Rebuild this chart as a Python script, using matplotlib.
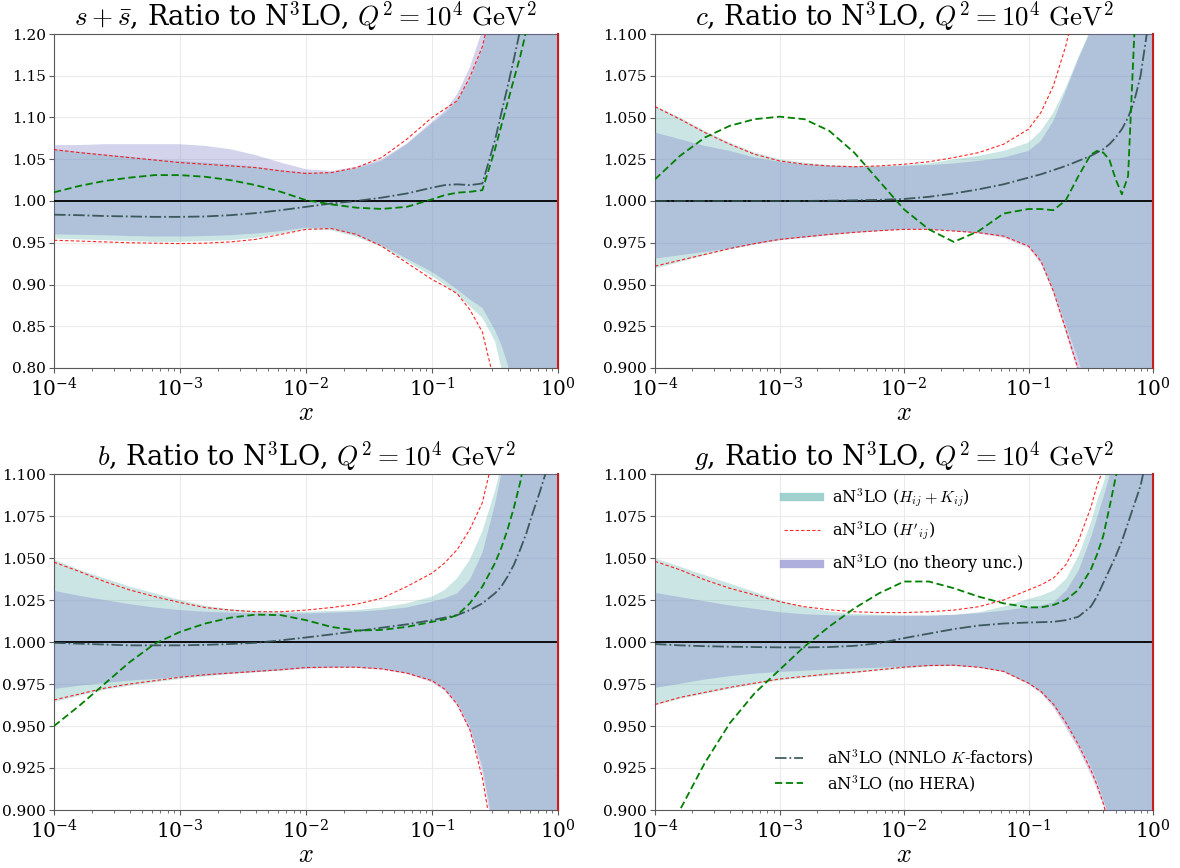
import numpy as np
import matplotlib
matplotlib.use("Agg")
import matplotlib.pyplot as plt
from matplotlib.lines import Line2D
from matplotlib.ticker import FormatStrFormatter, LogLocator

plt.rcParams["font.family"] = "serif"
plt.rcParams["font.serif"] = ["DejaVu Serif"]
plt.rcParams["mathtext.fontset"] = "cm"

# log10(x) sampling points shared by all curves
log_x = [-4.0, -3.8, -3.6, -3.4, -3.2, -3.0, -2.8, -2.6, -2.4, -2.2, -2.0, -1.8, -1.6,
         -1.4, -1.2, -1.0, -0.9, -0.8, -0.7, -0.6, -0.5, -0.45, -0.4, -0.35, -0.3, -0.25,
         -0.2, -0.15, -0.1, -0.05, 0.0]

# ---- s + sbar ----
ss_hk_up = [1.062, 1.059, 1.056, 1.053, 1.050, 1.048, 1.046, 1.044, 1.041, 1.037, 1.034, 1.034, 1.039,
            1.048, 1.068, 1.093, 1.105, 1.120, 1.145, 1.182, 1.25, 1.29, 1.33, 1.37, 1.41, 1.45,
            1.49, 1.53, 1.57, 1.61, 1.65]
ss_hk_lo = [0.955, 0.954, 0.953, 0.952, 0.951, 0.951, 0.952, 0.953, 0.956, 0.961, 0.966, 0.965, 0.957,
            0.945, 0.928, 0.910, 0.900, 0.888, 0.874, 0.860, 0.832, 0.800, 0.760, 0.72, 0.68, 0.64,
            0.60, 0.56, 0.52, 0.48, 0.44]
ss_nt_up = [1.067, 1.067, 1.068, 1.068, 1.068, 1.068, 1.066, 1.062, 1.055, 1.046, 1.038, 1.036, 1.041,
            1.050, 1.069, 1.095, 1.108, 1.128, 1.160, 1.205, 1.27, 1.31, 1.35, 1.39, 1.43, 1.47,
            1.51, 1.55, 1.59, 1.63, 1.67]
ss_nt_lo = [0.960, 0.9595, 0.959, 0.958, 0.9575, 0.9575, 0.958, 0.959, 0.961, 0.964, 0.968, 0.967, 0.959,
            0.947, 0.931, 0.915, 0.905, 0.894, 0.882, 0.872, 0.845, 0.828, 0.805, 0.77, 0.73, 0.69,
            0.65, 0.61, 0.57, 0.53, 0.49]
ss_hp_up = [1.0615, 1.058, 1.055, 1.052, 1.049, 1.046, 1.044, 1.042, 1.040, 1.036, 1.033, 1.034, 1.040,
            1.052, 1.074, 1.100, 1.110, 1.120, 1.148, 1.185, 1.25, 1.30, 1.35, 1.40, 1.45, 1.50,
            1.55, 1.60, 1.65, 1.70, 1.75]
ss_hp_lo = [0.953, 0.952, 0.951, 0.950, 0.9495, 0.949, 0.9495, 0.951, 0.954, 0.960, 0.966, 0.967, 0.960,
            0.946, 0.926, 0.906, 0.898, 0.889, 0.870, 0.843, 0.78, 0.74, 0.70, 0.66, 0.62, 0.58,
            0.54, 0.50, 0.46, 0.42, 0.38]
ss_kfac = [0.9836, 0.983, 0.982, 0.9815, 0.981, 0.981, 0.9815, 0.983, 0.9855, 0.989, 0.993, 0.997, 1.000,
           1.004, 1.009, 1.016, 1.019, 1.020, 1.019, 1.021, 1.073, 1.105, 1.137, 1.170, 1.205, 1.25,
           1.30, 1.35, 1.40, 1.45, 1.50]
ss_nohera = [1.0104, 1.018, 1.024, 1.028, 1.031, 1.031, 1.029, 1.025, 1.019, 1.011, 1.001, 0.996, 0.992,
             0.9905, 0.993, 1.002, 1.007, 1.010, 1.011, 1.013, 1.062, 1.090, 1.118, 1.146, 1.173, 1.205,
             1.24, 1.28, 1.32, 1.36, 1.40]

# ---- charm ----
c_hk_up = [1.057, 1.050, 1.042, 1.035, 1.029, 1.025, 1.023, 1.0215, 1.021, 1.021, 1.0215, 1.0225, 1.025,
           1.027, 1.030, 1.035, 1.042, 1.053, 1.068, 1.086, 1.103, 1.115, 1.13, 1.15, 1.17, 1.19,
           1.21, 1.23, 1.25, 1.27, 1.30]
c_hk_lo = [0.9595, 0.9635, 0.9675, 0.971, 0.974, 0.9765, 0.978, 0.9795, 0.981, 0.982, 0.983, 0.983, 0.982,
           0.981, 0.979, 0.9735, 0.9645, 0.947, 0.926, 0.905, 0.880, 0.86, 0.84, 0.82, 0.80, 0.78,
           0.76, 0.74, 0.72, 0.70, 0.68]
c_nt_up = [1.041, 1.037, 1.033, 1.030, 1.026, 1.0235, 1.022, 1.021, 1.0205, 1.0205, 1.021, 1.0215, 1.0225,
           1.024, 1.026, 1.030, 1.036, 1.048, 1.066, 1.085, 1.102, 1.114, 1.13, 1.15, 1.17, 1.19,
           1.21, 1.23, 1.25, 1.27, 1.30]
c_nt_lo = [0.9655, 0.9675, 0.9695, 0.9715, 0.974, 0.9765, 0.978, 0.9795, 0.981, 0.982, 0.983, 0.983, 0.982,
           0.9805, 0.978, 0.972, 0.9625, 0.9445, 0.921, 0.897, 0.870, 0.855, 0.835, 0.815, 0.795, 0.775,
           0.755, 0.735, 0.715, 0.695, 0.675]
c_hp_up = [1.0565, 1.049, 1.041, 1.034, 1.028, 1.024, 1.022, 1.021, 1.0205, 1.021, 1.022, 1.0235, 1.026,
           1.029, 1.034, 1.043, 1.053, 1.069, 1.093, 1.125, 1.17, 1.20, 1.23, 1.26, 1.29, 1.32,
           1.35, 1.38, 1.41, 1.44, 1.47]
c_hp_lo = [0.961, 0.9645, 0.968, 0.9715, 0.9745, 0.977, 0.9785, 0.980, 0.9812, 0.9822, 0.983, 0.983, 0.982,
           0.981, 0.979, 0.973, 0.964, 0.946, 0.923, 0.899, 0.86, 0.84, 0.82, 0.80, 0.78, 0.76,
           0.74, 0.72, 0.70, 0.68, 0.66]
c_kfac = [1.0, 1.0, 1.0, 1.0, 1.0, 1.0, 1.0, 1.0002, 1.0004, 1.0007, 1.0012, 1.0025, 1.0045,
          1.007, 1.010, 1.014, 1.016, 1.0185, 1.021, 1.024, 1.027, 1.029, 1.031, 1.034, 1.038, 1.043,
          1.050, 1.060, 1.075, 1.10, 1.14]
c_nohera = [1.013, 1.027, 1.038, 1.045, 1.049, 1.0505, 1.049, 1.042, 1.029, 1.012, 0.995, 0.983, 0.9755,
            0.982, 0.9925, 0.9952, 0.9952, 0.9945, 1.0005, 1.0148, 1.0278, 1.0300, 1.029, 1.0247, 1.013, 1.004,
            1.015, 1.10, 1.30, 1.60, 2.00]

# ---- bottom ----
b_hk_up = [1.049, 1.043, 1.038, 1.033, 1.029, 1.025, 1.0215, 1.0195, 1.0185, 1.018, 1.018, 1.0185, 1.019,
           1.0205, 1.023, 1.027, 1.031, 1.038, 1.049, 1.066, 1.09, 1.105, 1.12, 1.14, 1.16, 1.18,
           1.20, 1.22, 1.24, 1.26, 1.28]
b_hk_lo = [0.9643, 0.968, 0.9715, 0.974, 0.976, 0.978, 0.9795, 0.981, 0.982, 0.983, 0.9845, 0.985, 0.985,
           0.984, 0.9815, 0.977, 0.9725, 0.964, 0.950, 0.926, 0.885, 0.86, 0.83, 0.80, 0.77, 0.74,
           0.71, 0.68, 0.65, 0.62, 0.59]
b_nt_up = [1.0305, 1.0275, 1.025, 1.0225, 1.0205, 1.019, 1.018, 1.0175, 1.017, 1.017, 1.017, 1.0175, 1.018,
           1.019, 1.0205, 1.024, 1.026, 1.029, 1.037, 1.053, 1.082, 1.10, 1.115, 1.135, 1.155, 1.175,
           1.195, 1.215, 1.235, 1.255, 1.275]
b_nt_lo = [0.972, 0.974, 0.9755, 0.977, 0.978, 0.979, 0.980, 0.981, 0.982, 0.983, 0.984, 0.9845, 0.9845,
           0.9835, 0.981, 0.976, 0.971, 0.962, 0.947, 0.922, 0.88, 0.855, 0.825, 0.795, 0.765, 0.735,
           0.705, 0.675, 0.645, 0.615, 0.585]
b_hp_up = [1.0475, 1.042, 1.036, 1.031, 1.027, 1.0235, 1.0205, 1.019, 1.018, 1.018, 1.019, 1.0205, 1.0225,
           1.026, 1.033, 1.041, 1.047, 1.055, 1.067, 1.083, 1.115, 1.14, 1.17, 1.20, 1.23, 1.26,
           1.29, 1.32, 1.35, 1.38, 1.41]
b_hp_lo = [0.9655, 0.969, 0.9725, 0.975, 0.977, 0.979, 0.9805, 0.9815, 0.9825, 0.9835, 0.9848, 0.985, 0.985,
           0.984, 0.9815, 0.977, 0.972, 0.963, 0.948, 0.919, 0.875, 0.85, 0.82, 0.79, 0.76, 0.73,
           0.70, 0.67, 0.64, 0.61, 0.58]
b_kfac = [0.9995, 0.999, 0.9985, 0.998, 0.998, 0.998, 0.9983, 0.9988, 0.9995, 1.001, 1.0027, 1.0045, 1.0065,
          1.0085, 1.0105, 1.013, 1.0145, 1.016, 1.019, 1.023, 1.029, 1.033, 1.039, 1.046, 1.055, 1.065,
          1.077, 1.088, 1.10, 1.13, 1.18]
b_nohera = [0.950, 0.962, 0.975, 0.988, 0.999, 1.006, 1.011, 1.0145, 1.0163, 1.016, 1.013, 1.009, 1.0068,
            1.0072, 1.009, 1.012, 1.0135, 1.016, 1.023, 1.033, 1.047, 1.056, 1.067, 1.080, 1.095, 1.115,
            1.14, 1.17, 1.20, 1.23, 1.26]

# ---- gluon ----
g_hk_up = [1.050, 1.045, 1.040, 1.035, 1.030, 1.025, 1.021, 1.0185, 1.017, 1.0165, 1.016, 1.016, 1.0165,
           1.018, 1.0215, 1.026, 1.028, 1.031, 1.038, 1.052, 1.072, 1.085, 1.095, 1.11, 1.13, 1.15,
           1.17, 1.19, 1.21, 1.23, 1.25]
g_hk_lo = [0.9626, 0.9665, 0.9695, 0.9725, 0.975, 0.9775, 0.979, 0.9804, 0.9818, 0.9832, 0.9845, 0.9857, 0.986,
           0.985, 0.9825, 0.9755, 0.9705, 0.9626, 0.9516, 0.9397, 0.926, 0.917, 0.906, 0.895, 0.88, 0.865,
           0.85, 0.835, 0.82, 0.805, 0.79]
g_nt_up = [1.0295, 1.027, 1.0245, 1.022, 1.020, 1.018, 1.0168, 1.0162, 1.016, 1.016, 1.016, 1.016, 1.0165,
           1.0175, 1.019, 1.021, 1.022, 1.024, 1.031, 1.043, 1.063, 1.075, 1.087, 1.10, 1.12, 1.14,
           1.16, 1.18, 1.20, 1.22, 1.24]
g_nt_lo = [0.973, 0.9755, 0.978, 0.980, 0.9815, 0.9825, 0.9832, 0.984, 0.9845, 0.985, 0.9855, 0.986, 0.986,
           0.985, 0.9823, 0.975, 0.9695, 0.961, 0.949, 0.936, 0.921, 0.912, 0.903, 0.89, 0.875, 0.86,
           0.845, 0.83, 0.815, 0.80, 0.785]
g_hp_up = [1.048, 1.043, 1.037, 1.032, 1.028, 1.024, 1.021, 1.0192, 1.018, 1.0175, 1.0175, 1.018, 1.019,
           1.021, 1.025, 1.031, 1.034, 1.038, 1.046, 1.060, 1.080, 1.093, 1.103, 1.13, 1.16, 1.19,
           1.22, 1.25, 1.28, 1.31, 1.34]
g_hp_lo = [0.9628, 0.967, 0.970, 0.973, 0.9755, 0.978, 0.9795, 0.981, 0.982, 0.9835, 0.985, 0.986, 0.9862,
           0.985, 0.9825, 0.9755, 0.9705, 0.963, 0.952, 0.939, 0.924, 0.915, 0.904, 0.89, 0.875, 0.86,
           0.845, 0.83, 0.815, 0.80, 0.785]
g_kfac = [0.9988, 0.998, 0.9975, 0.9972, 0.997, 0.9968, 0.9968, 0.997, 0.9977, 0.9993, 1.0023, 1.005, 1.0077,
          1.0098, 1.011, 1.0116, 1.0118, 1.012, 1.013, 1.015, 1.021, 1.027, 1.035, 1.043, 1.051, 1.060,
          1.071, 1.082, 1.093, 1.11, 1.14]
g_nohera = [0.86, 0.90, 0.928, 0.9516, 0.9695, 0.9834, 0.9973, 1.0092, 1.020, 1.029, 1.036, 1.036, 1.032,
            1.027, 1.023, 1.0206, 1.0206, 1.022, 1.025, 1.031, 1.043, 1.052, 1.063, 1.080, 1.098, 1.115,
            1.14, 1.16, 1.18, 1.20, 1.22]

ticks_wide = [0.80, 0.85, 0.90, 0.95, 1.00, 1.05, 1.10, 1.15, 1.20]
ticks_narrow = [0.900, 0.925, 0.950, 0.975, 1.000, 1.025, 1.050, 1.075, 1.100]

panels = [
    (r"$s+\bar{s}$", (0.80, 1.20), ticks_wide, "%.2f",
     ss_hk_up, ss_hk_lo, ss_nt_up, ss_nt_lo, ss_hp_up, ss_hp_lo, ss_kfac, ss_nohera),
    (r"$c$", (0.90, 1.10), ticks_narrow, "%.3f",
     c_hk_up, c_hk_lo, c_nt_up, c_nt_lo, c_hp_up, c_hp_lo, c_kfac, c_nohera),
    (r"$b$", (0.90, 1.10), ticks_narrow, "%.3f",
     b_hk_up, b_hk_lo, b_nt_up, b_nt_lo, b_hp_up, b_hp_lo, b_kfac, b_nohera),
    (r"$g$", (0.90, 1.10), ticks_narrow, "%.3f",
     g_hk_up, g_hk_lo, g_nt_up, g_nt_lo, g_hp_up, g_hp_lo, g_kfac, g_nohera),
]

W, H = 1180, 868
positions = [
    [54 / W, 1 - 368 / H, 504 / W, 334 / H],
    [655 / W, 1 - 368 / H, 498 / W, 334 / H],
    [54 / W, 1 - 810 / H, 504 / W, 336 / H],
    [655 / W, 1 - 810 / H, 498 / W, 336 / H],
]

TEAL = "#5fb3ae"
LAV = "#7b7bc8"
SLATE = "#2f4f4f"
SPINE = "0.35"

fig = plt.figure(figsize=(11.8, 8.68), dpi=100)
x = 10.0 ** np.array(log_x)

axes = []
for pos, (name, ylim, yticks, fmt, hk_up, hk_lo, nt_up, nt_lo, hp_up, hp_lo, kfac, nohera) in zip(positions, panels):
    ax = fig.add_axes(pos)
    axes.append(ax)
    ax.set_xscale("log")
    ax.fill_between(x, hk_lo, hk_up, color=TEAL, alpha=0.33, lw=0, zorder=2)
    ax.fill_between(x, nt_lo, nt_up, color=LAV, alpha=0.33, lw=0, zorder=3)
    ax.plot(x, hp_up, color="red", lw=0.8, ls=(0, (3, 2)), alpha=0.85, zorder=4)
    ax.plot(x, hp_lo, color="red", lw=0.8, ls=(0, (3, 2)), alpha=0.85, zorder=4)
    ax.axhline(1.0, color="black", lw=1.3, zorder=5)
    ax.plot(x, kfac, color=SLATE, lw=1.3, ls="-.", alpha=0.9, zorder=6)
    ax.plot(x, nohera, color="green", lw=1.3, ls=(0, (4, 2)), zorder=7)
    ax.axvline(1.0, color="#c81e1e", lw=1.5, zorder=8, clip_on=False)

    ax.set_xlim(1e-4, 1.0)
    ax.set_ylim(*ylim)
    ax.set_yticks(yticks)
    ax.yaxis.set_major_formatter(FormatStrFormatter(fmt))
    ax.xaxis.set_major_locator(LogLocator(base=10, numticks=10))
    ax.xaxis.set_minor_locator(LogLocator(base=10, subs=np.arange(2, 10), numticks=50))
    ax.grid(True, which="major", color="0.92", lw=0.8, zorder=0)
    ax.set_axisbelow(True)
    ax.tick_params(axis="y", which="major", labelsize=11, color=SPINE, length=3.5, pad=2.3)
    ax.tick_params(axis="x", which="major", labelsize=14.5, color=SPINE, length=3.5, pad=3)
    ax.tick_params(axis="x", which="minor", color=SPINE, length=2)
    for s in ax.spines.values():
        s.set_color(SPINE)
    ax.set_xlabel(r"$x$", fontsize=19, labelpad=0)
    ax.set_title(name + r", Ratio to N$^3$LO, $Q^2=10^4~\mathrm{GeV}^2$", fontsize=19.5, pad=4)

# legends on the gluon panel
axg = axes[3]
h1 = [Line2D([], [], color=TEAL, lw=6, alpha=0.6),
      Line2D([], [], color="red", lw=0.8, ls=(0, (3, 2)), alpha=0.85),
      Line2D([], [], color=LAV, lw=6, alpha=0.6)]
l1 = [r"aN$^3$LO ($H_{ij}+K_{ij}$)", r"aN$^3$LO ($H'_{ij}$)", r"aN$^3$LO (no theory unc.)"]
leg1 = axg.legend(h1, l1, loc="upper center", frameon=False, fontsize=11.6,
                  handlelength=2.2, handletextpad=0.75, labelspacing=0.62,
                  bbox_to_anchor=(0.5, 1.005))
axg.add_artist(leg1)
h2 = [Line2D([], [], color=SLATE, lw=1.3, ls="-.", alpha=0.9),
      Line2D([], [], color="green", lw=1.3, ls=(0, (4, 2)))]
l2 = [r"aN$^3$LO (NNLO $K$-factors)", r"aN$^3$LO (no HERA)"]
axg.legend(h2, l2, loc="lower center", frameon=False, fontsize=11.6,
           handlelength=1.75, handletextpad=1.5, labelspacing=0.3,
           bbox_to_anchor=(0.5, 0.005))

fig.savefig("out.png", dpi=100)
